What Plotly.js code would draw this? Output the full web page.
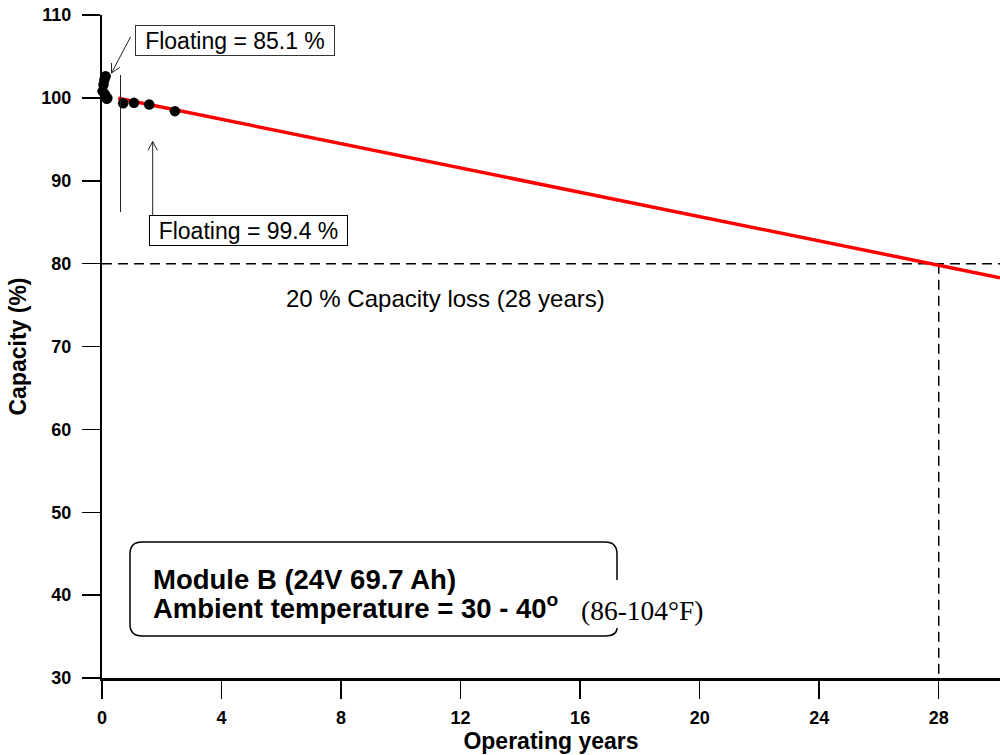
<!DOCTYPE html>
<html>
<head>
<meta charset="utf-8">
<script src="https://cdn.plot.ly/plotly-3.0.1.min.js"></script>
<style>html,body{margin:0;padding:0;background:#fff;}#chart{width:1000px;height:755px;}</style>
</head>
<body>
<div id="chart"></div>
<script>
// ---- data ----
const measuredYears = [0.02, 0.05, 0.08, 0.12, 0.10, 0.16, 0.18, 0.71, 1.07, 1.58, 2.44];
const measuredCapacity = [100.8, 101.6, 102.2, 102.6, 100.4, 99.9, 100.0, 99.35, 99.4, 99.2, 98.4];
const trendYears = [0.54, 30.05];
const trendCapacity = [99.95, 78.3];
const endOfLifeCapacity = 80;
const endOfLifeYears = 28;
const xTicks = [0, 4, 8, 12, 16, 20, 24, 28];
const yTicks = [30, 40, 50, 60, 70, 80, 90, 100, 110];
const floatingA = "Floating = 85.1 %";
const floatingB = "Floating = 99.4 %";
const lossLabel = "20 % Capacity loss (28 years)";
const moduleLine1 = "Module B (24V 69.7 Ah)";
const moduleLine2 = "Ambient temperature = 30 - 40<sup>o</sup>";
const fahrenheit = "(86-104°F)";

// ---- layout helpers ----
const W = 1000, H = 755, ML = 102, MR = 0, MT = 15, MB = 77;
const xr = [0, 30.05], yr = [30, 110];
const PW = W - ML - MR, PH = H - MT - MB;
const xd = px => xr[0] + (px - ML) / PW * (xr[1] - xr[0]);
const yd = py => yr[1] - (py - MT) / PH * (yr[1] - yr[0]);

const AR = "Arial, 'Liberation Sans', sans-serif";
const shapes = [];

// reference dashed lines
shapes.push({type:'line', xref:'x', yref:'y', x0:xr[0], x1:xr[1], y0:endOfLifeCapacity, y1:endOfLifeCapacity,
  line:{color:'#000', width:1.5, dash:'10px,6px'}, layer:'below'});
shapes.push({type:'line', xref:'x', yref:'y', x0:endOfLifeYears, x1:endOfLifeYears, y0:endOfLifeCapacity, y1:yr[0],
  line:{color:'#000', width:1.5, dash:'10px,6px'}, layer:'below'});

// thin vertical marker line
shapes.push({type:'line', xref:'x', yref:'y', x0:xd(120.5), x1:xd(120.5), y0:yd(75), y1:yd(212),
  line:{color:'#222', width:1}});

// open arrows
function arrow(tx, ty, hx, hy) {
  shapes.push({type:'line', xref:'x', yref:'y', x0:xd(tx), y0:yd(ty), x1:xd(hx), y1:yd(hy), line:{color:'#222', width:1}});
  const dx = tx - hx, dy = ty - hy, L = Math.hypot(dx, dy);
  const ux = dx / L, uy = dy / L, len = 10, a = 28 * Math.PI / 180;
  [a, -a].forEach(t => {
    const rx = ux * Math.cos(t) - uy * Math.sin(t), ry = ux * Math.sin(t) + uy * Math.cos(t);
    shapes.push({type:'line', xref:'x', yref:'y', x0:xd(hx), y0:yd(hy), x1:xd(hx + rx * len), y1:yd(hy + ry * len),
      line:{color:'#222', width:1}});
  });
}
arrow(130.5, 37, 111.5, 73);
arrow(152.7, 215, 152.7, 141.5);

// rounded box with gap on right
(function(){
  const l = 130, r = 617, t = 542, b = 636, c = 12;
  const P = (x, y) => xd(x) + ',' + yd(y);
  const path = 'M' + P(r, 580) + ' L' + P(r, t + c) + ' Q' + P(r, t) + ' ' + P(r - c, t) +
    ' L' + P(l + c, t) + ' Q' + P(l, t) + ' ' + P(l, t + c) +
    ' L' + P(l, b - c) + ' Q' + P(l, b) + ' ' + P(l + c, b) +
    ' L' + P(r - c, b) + ' Q' + P(r, b) + ' ' + P(r, 628);
  shapes.push({type:'path', xref:'x', yref:'y', path:path, line:{color:'#000', width:1.5}});
})();

const annotations = [
  {xref:'x', yref:'y', x:xd(235), y:yd(40), text:floatingA, showarrow:false,
   font:{family:AR, size:23, color:'#000'}, bordercolor:'#333', borderwidth:1, borderpad:1, bgcolor:'#fff',
   width:196, height:27},
  {xref:'x', yref:'y', x:xd(248.5), y:yd(230), text:floatingB, showarrow:false,
   font:{family:AR, size:23, color:'#000'}, bordercolor:'#000', borderwidth:1, borderpad:1, bgcolor:'#fff',
   width:195, height:27},
  {xref:'x', yref:'y', x:xd(445), y:yd(298), text:lossLabel, showarrow:false,
   font:{family:AR, size:24, color:'#000'}},
  {xref:'x', yref:'y', x:xd(151), y:yd(579), xanchor:'left', text:'<b>' + moduleLine1 + '</b>', showarrow:false,
   font:{family:AR, size:27.5, color:'#000'}},
  {xref:'x', yref:'y', x:xd(151), y:yd(606), xanchor:'left', text:'<b>' + moduleLine2 + '</b>', showarrow:false,
   font:{family:AR, size:27.5, color:'#000'}},
  {xref:'x', yref:'y', x:xd(579), y:yd(610), xanchor:'left', text:fahrenheit, showarrow:false,
   font:{family:"'Times New Roman', 'Liberation Serif', serif", size:27.5, color:'#000'}}
];

const traces = [
  {x:trendYears, y:trendCapacity, type:'scatter', mode:'lines', line:{color:'#ff0000', width:3.5},
   hoverinfo:'skip', cliponaxis:false},
  {x:measuredYears, y:measuredCapacity, type:'scatter', mode:'markers',
   marker:{color:'#000', size:10.5}, cliponaxis:false}
];

const layout = {
  width:W, height:H, margin:{l:ML, r:MR, t:MT, b:MB, pad:0},
  paper_bgcolor:'#fff', plot_bgcolor:'#fff', showlegend:false,
  font:{family:AR, color:'#000'},
  xaxis:{range:xr, tickvals:xTicks, ticktext:xTicks.map(String), ticks:'outside', ticklen:18, tickwidth:1.5,
    tickcolor:'#000', showline:true, linecolor:'#000', linewidth:2.5, showgrid:false, zeroline:false,
    tickfont:{family:AR, size:18, weight:'bold'}, ticklabelstandoff:4,
    title:{text:'<b>Operating years</b>', font:{family:AR, size:23}, standoff:0}},
  yaxis:{range:yr, tickvals:yTicks, ticktext:yTicks.map(String), ticks:'outside', ticklen:18, tickwidth:1.5,
    tickcolor:'#000', showline:true, linecolor:'#000', linewidth:2, showgrid:false, zeroline:false,
    tickfont:{family:AR, size:18, weight:'bold'}, ticklabelstandoff:7,
    title:{text:'<b>Capacity (%)</b>', font:{family:AR, size:23}, standoff:8}},
  shapes:shapes, annotations:annotations
};

Plotly.newPlot('chart', traces, layout, {staticPlot:true, displayModeBar:false});
</script>
</body>
</html>
